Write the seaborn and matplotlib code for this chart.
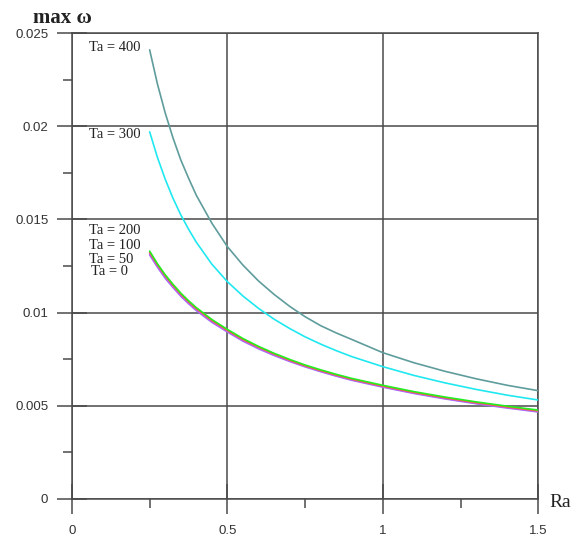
import matplotlib
matplotlib.use("Agg")
import matplotlib.pyplot as plt
import seaborn as sns
import pandas as pd
from matplotlib.ticker import MultipleLocator, FuncFormatter

ra = [0.25, 0.275, 0.3, 0.325, 0.35, 0.375, 0.4, 0.45, 0.5, 0.55, 0.6, 0.65,
      0.7, 0.75, 0.8, 0.85, 0.9, 1.0, 1.1, 1.2, 1.3, 1.4, 1.5]

w_ta0 = [0.01309, 0.01244, 0.01184, 0.01135, 0.01088, 0.01048, 0.01011, 0.00948,
         0.00896, 0.00847, 0.00806, 0.00770, 0.00738, 0.00709, 0.00683, 0.00659,
         0.00637, 0.00600, 0.00566, 0.00537, 0.00511, 0.00488, 0.00467]
w_ta50 = [0.01316, 0.01250, 0.01190, 0.01140, 0.01093, 0.01053, 0.01016, 0.00953,
          0.00900, 0.00851, 0.00810, 0.00774, 0.00741, 0.00712, 0.00686, 0.00662,
          0.00640, 0.00603, 0.00569, 0.00540, 0.00514, 0.00491, 0.00470]
w_ta100 = [0.01324, 0.01257, 0.01198, 0.01147, 0.01100, 0.01059, 0.01022, 0.00958,
           0.00905, 0.00856, 0.00815, 0.00778, 0.00745, 0.00715, 0.00689, 0.00665,
           0.00643, 0.00606, 0.00572, 0.00543, 0.00517, 0.00494, 0.00473]
w_ta200 = [0.01330, 0.01262, 0.01203, 0.01152, 0.01105, 0.01064, 0.01027, 0.00963,
           0.00910, 0.00861, 0.00819, 0.00782, 0.00749, 0.00719, 0.00693, 0.00669,
           0.00647, 0.00610, 0.00576, 0.00547, 0.00521, 0.00498, 0.00477]
w_ta300 = [0.01970, 0.01833, 0.01716, 0.01614, 0.01525, 0.01448, 0.01378, 0.01260,
           0.01166, 0.01089, 0.01023, 0.00965, 0.00915, 0.00870, 0.00831, 0.00796,
           0.00764, 0.00710, 0.00663, 0.00623, 0.00588, 0.00557, 0.00531]
w_ta400 = [0.02410, 0.02227, 0.02072, 0.01938, 0.01820, 0.01722, 0.01630, 0.01480,
           0.01354, 0.01255, 0.01170, 0.01098, 0.01034, 0.00978, 0.00930, 0.00891,
           0.00856, 0.00785, 0.00731, 0.00685, 0.00645, 0.00610, 0.00581]

ta_names = ["Ta = 0", "Ta = 50", "Ta = 100", "Ta = 200", "Ta = 300", "Ta = 400"]
colors = ["#9a70ff", "#c060f0", "#ff5a3a", "#22ee22", "#20e8f0", "#5f9c9c"]

rows = []
for name, vals in zip(ta_names, [w_ta0, w_ta50, w_ta100, w_ta200, w_ta300, w_ta400]):
    for r, v in zip(ra, vals):
        rows.append({"Ra": r, "w": v, "Ta": name})
df = pd.DataFrame(rows)

sns.set_style("white")
plt.rcParams["font.family"] = ["Liberation Sans", "DejaVu Sans"]

fig = plt.figure(figsize=(5.8, 5.37), dpi=100)
ax = fig.add_axes([0.124, 0.0708, 0.804, 0.8677])

sns.lineplot(data=df, x="Ra", y="w", hue="Ta", hue_order=ta_names,
             palette=dict(zip(ta_names, colors)), linewidth=1.2,
             legend=False, ax=ax, zorder=3)

ax.set_xlim(0, 1.5)
ax.set_ylim(0, 0.025)
ax.xaxis.set_major_locator(MultipleLocator(0.5))
ax.xaxis.set_minor_locator(MultipleLocator(0.25))
ax.yaxis.set_major_locator(MultipleLocator(0.005))
ax.yaxis.set_minor_locator(MultipleLocator(0.0025))
fmt = FuncFormatter(lambda v, p: ("%g" % round(v, 4)))
ax.xaxis.set_major_formatter(fmt)
ax.yaxis.set_major_formatter(fmt)

grid_c = "#4a4a4a"
ax.grid(True, which="major", color=grid_c, linewidth=1.1, zorder=1)
for s in ax.spines.values():
    s.set_color(grid_c)
    s.set_linewidth(1.1)

ax.tick_params(which="major", direction="inout", length=22, width=1.1,
               color=grid_c, labelsize=9.5, labelcolor="#333333")
ax.tick_params(which="minor", direction="out", length=6.5, width=1.1,
               color=grid_c)
ax.tick_params(axis="x", which="major", pad=8)
ax.tick_params(axis="y", which="major", pad=6)
ax.tick_params(bottom=True, left=True, which="both")
ax.set_xlabel("")
ax.set_ylabel("")

serif = ["Liberation Serif", "DejaVu Serif"]
label_pos = [
    ("Ta = 400", 0.054, 0.0242),
    ("Ta = 300", 0.054, 0.01955),
    ("Ta = 200", 0.054, 0.0144),
    ("Ta = 100", 0.054, 0.0136),
    ("Ta = 50", 0.054, 0.01286),
    ("Ta = 0", 0.060, 0.0122),
]
for txt, x, y in label_pos:
    ax.text(x, y, txt, family=serif, fontsize=10.5, color="#222222",
            ha="left", va="center", zorder=4)

fig.text(0.057, 0.958, "max \u03c9", family=serif, fontsize=15,
         fontweight="bold", color="#222222", ha="left", va="baseline")
fig.text(0.947, 0.065, "Ra", family=serif, fontsize=14, color="#222222",
         ha="left", va="center")

fig.savefig("out.png", dpi=100)
